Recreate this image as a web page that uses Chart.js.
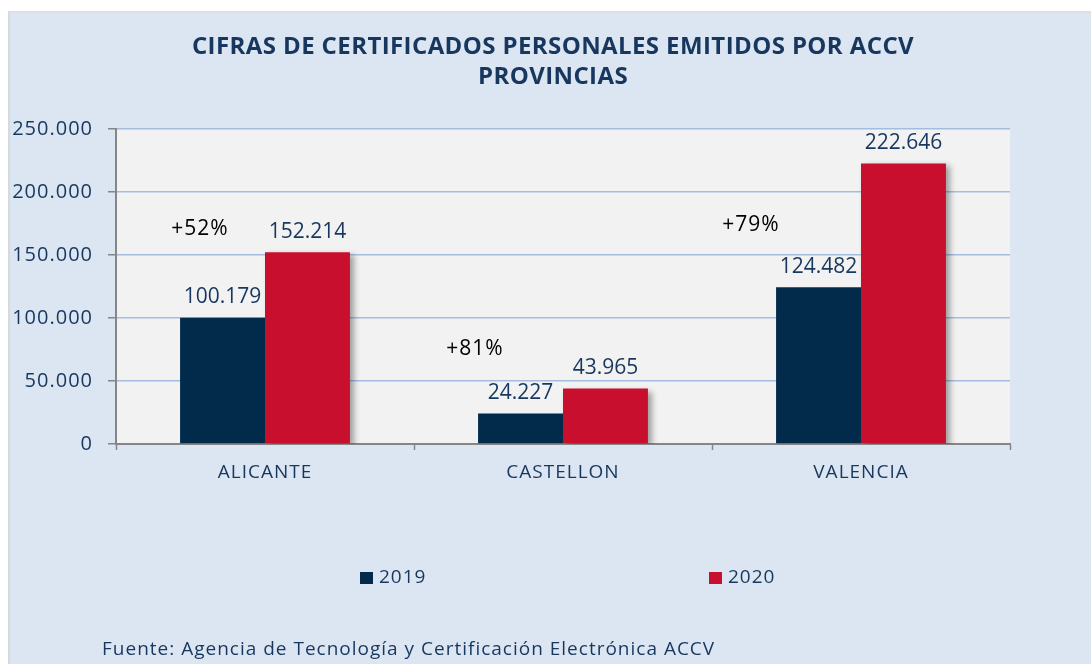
<!DOCTYPE html>
<html lang="es">
<head>
<meta charset="utf-8">
<title>Cifras de certificados personales emitidos por ACCV</title>
<script src="https://cdn.jsdelivr.net/npm/chart.js@4.4.1/dist/chart.umd.min.js"></script>
<style>
  html, body { margin: 0; padding: 0; background: #fff; overflow: hidden; }
  #wrap { position: relative; width: 1091px; height: 664px; }
  #panel {
    position: absolute; left: 8px; top: 11px; right: 0; bottom: 0;
    background: #dce6f2;
    border-left: 2px solid #d6d9de;
    border-top: 2px solid #dcdfe3;
  }
  #chart { position: absolute; left: 0; top: 0; }
</style>
</head>
<body>
<div id="wrap">
  <div id="panel"></div>
  <canvas id="chart" width="1091" height="664"></canvas>
</div>
<script>
'use strict';

/* ---- Data ---- */
const categories   = ['ALICANTE', 'CASTELLON', 'VALENCIA'];
const seriesNames  = ['2019', '2020'];
const values2019   = [100179, 24227, 124482];
const values2020   = [152214, 43965, 222646];
const growthLabels = ['+52%', '+81%', '+79%'];
const yTicks       = [0, 50000, 100000, 150000, 200000, 250000];

/* ---- Styling ---- */
const NAVY      = '#022a4b';
const RED       = '#c8102e';
const TEXT_BLUE = '#17375e';
const FONT      = "'Open Sans', sans-serif";

/* Spanish thousands separator: 250000 -> "250.000" */
function fmt(n) {
  return String(n).replace(/\B(?=(\d{3})+(?!\d))/g, '.');
}

/* Where the growth notes sit: offset from category centre (px), height in axis units */
const GROWTH_ANCHORS = [
  { dx: -65,  y: 171000 },
  { dx: -88,  y: 75500 },
  { dx: -110, y: 173500 },
];

/* ============================================================
   Plugins
   ============================================================ */
const plotBackground = {
  id: 'plotBackground',
  beforeDraw(chart) {
    const { ctx, chartArea: a } = chart;
    ctx.save();
    ctx.fillStyle = '#f2f2f2';
    ctx.fillRect(a.left, a.top, a.right - a.left, a.bottom - a.top);
    ctx.restore();
    // the original's axis text is set a little wide; applies to the scale labels drawn next
    ctx.letterSpacing = '1px';
  },
};

// soft drop shadow on the 2020 bars (the 2019 bar sits on top of it)
const barShadow = {
  id: 'barShadow',
  beforeDatasetDraw(chart, args) {
    const ctx = chart.ctx;
    ctx.save();
    if (args.index === 1) {
      ctx.shadowColor = 'rgba(0,0,0,0.35)';
      ctx.shadowBlur = 6;
      ctx.shadowOffsetX = 4;
      ctx.shadowOffsetY = 3;
    }
  },
  afterDatasetDraw(chart) {
    chart.ctx.restore();
  },
};

const annotations = {
  id: 'annotations',
  afterDatasetsDraw(chart) {
    const { ctx, scales: { x, y } } = chart;
    ctx.save();
    ctx.textAlign = 'center';

    // value labels above each bar
    ctx.font = `21px ${FONT}`;
    ctx.letterSpacing = '0px';
    ctx.fillStyle = TEXT_BLUE;
    ctx.textBaseline = 'bottom';
    chart.data.datasets.forEach((ds, di) => {
      chart.getDatasetMeta(di).data.forEach((bar, i) => {
        ctx.fillText(fmt(ds.data[i]), bar.x, bar.y - 10);
      });
    });

    // growth percentages
    ctx.font = `21px ${FONT}`;
    ctx.letterSpacing = '1px';
    ctx.fillStyle = '#000';
    ctx.textBaseline = 'middle';
    growthLabels.forEach((txt, i) => {
      const a = GROWTH_ANCHORS[i];
      ctx.fillText(txt, x.getPixelForValue(i) + a.dx, y.getPixelForValue(a.y));
    });
    ctx.restore();
  },
  afterDraw(chart) {
    const ctx = chart.ctx;
    ctx.save();

    // title
    ctx.fillStyle = TEXT_BLUE;
    ctx.textAlign = 'center';
    ctx.textBaseline = 'middle';
    ctx.letterSpacing = '0.4px';
    ctx.font = `bold 24px ${FONT}`;
    ctx.fillText('CIFRAS DE CERTIFICADOS PERSONALES EMITIDOS POR ACCV', 553, 47);
    ctx.fillText('PROVINCIAS', 553, 77);

    // legend
    ctx.font = `19px ${FONT}`;
    ctx.letterSpacing = '1px';
    ctx.textAlign = 'left';
    const legendX = [360, 709];
    const colors = [NAVY, RED];
    seriesNames.forEach((name, i) => {
      ctx.fillStyle = colors[i];
      ctx.fillRect(legendX[i], 572, 13, 12);
      ctx.fillStyle = TEXT_BLUE;
      ctx.fillText(name, legendX[i] + 19, 578);
    });

    // source
    ctx.font = `19px ${FONT}`;
    ctx.letterSpacing = '1px';
    ctx.fillText('Fuente: Agencia de Tecnología y Certificación Electrónica ACCV', 102, 650);
    ctx.restore();
  },
};

/* ============================================================
   Chart
   ============================================================ */
new Chart(document.getElementById('chart'), {
  type: 'bar',
  data: {
    labels: categories,
    datasets: [
      { label: seriesNames[0], data: values2019, backgroundColor: NAVY },
      { label: seriesNames[1], data: values2020, backgroundColor: RED },
    ],
  },
  plugins: [plotBackground, barShadow, annotations],
  options: {
    responsive: false,
    animation: false,
    events: [],
    layout: { padding: { top: 129, right: 81, bottom: 170, left: 0 } },
    datasets: {
      bar: { categoryPercentage: 0.57, barPercentage: 1.0, borderWidth: 0 },
    },
    plugins: {
      legend: { display: false },
      title: { display: false },
      tooltip: { enabled: false },
    },
    scales: {
      x: {
        afterFit: s => { s.height = 50; },
        grid: {
          drawOnChartArea: false,
          drawTicks: true,
          tickLength: 6,
          tickColor: '#868686',
          tickWidth: 1.5,
        },
        border: { color: '#868686', width: 2 },
        ticks: { color: TEXT_BLUE, font: { family: FONT, size: 19 }, padding: 11 },
      },
      y: {
        min: 0,
        max: 250000,
        afterFit: s => { s.width = 116; },
        afterBuildTicks: s => { s.ticks = yTicks.map(v => ({ value: v })); },
        grid: {
          color: '#a3bde0',
          lineWidth: 1.5,
          tickLength: 8,
          tickColor: '#868686',
          tickWidth: 1.5,
        },
        border: { color: '#868686', width: 2 },
        ticks: {
          color: TEXT_BLUE,
          font: { family: FONT, size: 20 },
          padding: 15,
          callback: v => fmt(v),
        },
      },
    },
  },
});
</script>
</body>
</html>
